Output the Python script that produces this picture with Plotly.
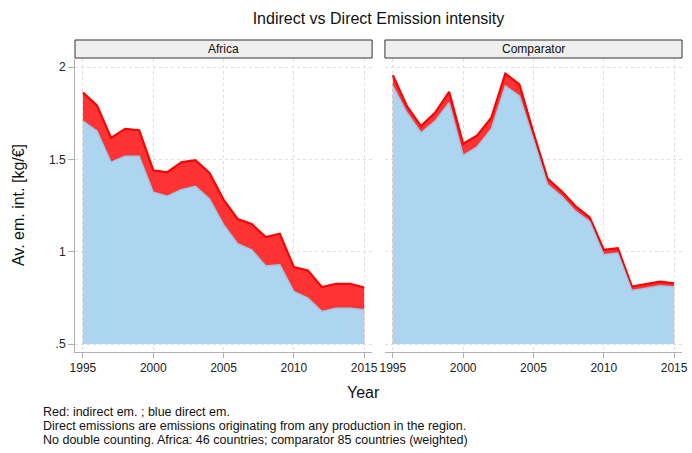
import plotly.graph_objects as go

# Data
YEARS = list(range(1995, 2016))

AFRICA_TOTAL = [1.861, 1.792, 1.616, 1.665, 1.658, 1.441, 1.430, 1.484, 1.495, 1.426, 1.282,
                1.177, 1.150, 1.079, 1.097, 0.916, 0.898, 0.808, 0.826, 0.826, 0.806]
AFRICA_DIRECT = [1.707, 1.653, 1.484, 1.517, 1.517, 1.322, 1.300, 1.336, 1.354, 1.285, 1.146,
                 1.043, 1.010, 0.923, 0.929, 0.784, 0.748, 0.676, 0.694, 0.694, 0.685]

COMP_TOTAL = [1.955, 1.788, 1.680, 1.752, 1.866, 1.584, 1.629, 1.725, 1.964, 1.906, 1.643,
              1.396, 1.327, 1.246, 1.186, 1.010, 1.019, 0.811, 0.824, 0.838, 0.829]
COMP_DIRECT = [1.897, 1.752, 1.644, 1.707, 1.806, 1.521, 1.568, 1.665, 1.897, 1.843, 1.607,
               1.363, 1.300, 1.218, 1.164, 0.983, 0.992, 0.790, 0.802, 0.815, 0.808]

PANELS = ["Africa", "Comparator"]
AREA_BASE = 0.5

X_TICKS = [1995, 2000, 2005, 2010, 2015]
Y_TICKS = [0.5, 1, 1.5, 2]
Y_TICK_TEXT = [".5", "1", "1.5", "2"]

NOTES = [
    "Red: indirect em. ; blue direct em.",
    "Direct emissions are emissions originating from any production in the region.",
    "No double counting. Africa: 46 countries; comparator 85 countries (weighted)",
]

W, H = 692, 453
ML, MR, MT, MB = 75, 4, 59, 101
PW, PH = W - ML - MR, H - MT - MB

RED_FILL = "rgba(255,0,0,0.8)"
BLUE_FILL = "#aed5ef"
FONT = "Liberation Sans, Arial, sans-serif"

fig = go.Figure()

series = [(AFRICA_TOTAL, AFRICA_DIRECT), (COMP_TOTAL, COMP_DIRECT)]
for i, (total, direct) in enumerate(series):
    xa = "x" if i == 0 else "x2"
    ya = "y" if i == 0 else "y2"
    base = [AREA_BASE] * len(YEARS)
    fig.add_trace(go.Scatter(x=YEARS, y=base, mode="lines", line=dict(width=0),
                             xaxis=xa, yaxis=ya, showlegend=False, hoverinfo="skip"))
    fig.add_trace(go.Scatter(x=YEARS, y=total, mode="lines", fill="tonexty",
                             fillcolor=RED_FILL, line=dict(color="red", width=2.2),
                             xaxis=xa, yaxis=ya, showlegend=False, name="Total"))
    fig.add_trace(go.Scatter(x=YEARS, y=base, mode="lines", line=dict(width=0),
                             xaxis=xa, yaxis=ya, showlegend=False, hoverinfo="skip"))
    fig.add_trace(go.Scatter(x=YEARS, y=direct, mode="lines", fill="tonexty",
                             fillcolor=BLUE_FILL, line=dict(color="#9dc8ea", width=1.5),
                             xaxis=xa, yaxis=ya, showlegend=False, name="Direct"))

dom_left = [0, 300 / PW]
dom_right = [313 / PW, 1]

yr_pad = 8 / PH * 1.5 / (1 - 16 / PH)
y_range = [0.5 - yr_pad, 2 + yr_pad]
x_pad = 8 / 284 * 20
x_range = [1995 - x_pad, 2015 + x_pad]

xcommon = dict(range=x_range, tickvals=X_TICKS, showgrid=True, gridcolor="#dedede",
               griddash="dot", gridwidth=1, showline=True, linecolor="#b0b0b0",
               ticks="outside", ticklen=5, tickcolor="#b0b0b0", zeroline=False,
               tickfont=dict(size=12, color="#222"))
ycommon = dict(range=y_range, tickvals=Y_TICKS, showgrid=True, gridcolor="#dedede",
               griddash="dot", gridwidth=1, zeroline=False)

fig.update_layout(
    width=W, height=H,
    margin=dict(l=ML, r=MR, t=MT, b=MB),
    plot_bgcolor="white", paper_bgcolor="white",
    font=dict(family=FONT, color="#111"),
    xaxis=dict(domain=dom_left, anchor="y", **xcommon),
    xaxis2=dict(domain=dom_right, anchor="y2", **xcommon),
    yaxis=dict(domain=[0, 1], anchor="x", ticktext=Y_TICK_TEXT, showline=True,
               linecolor="#b0b0b0", ticks="outside", ticklen=6, tickcolor="#b0b0b0",
               tickfont=dict(size=12, color="#222"), **ycommon),
    yaxis2=dict(domain=[0, 1], anchor="x2", showticklabels=False, showline=False, **ycommon),
    title=dict(text="Indirect vs Direct Emission intensity", x=0.5, xref="paper",
               xanchor="center", y=1 - 18 / H, yref="container", yanchor="middle",
               font=dict(size=16, color="#111")),
)

# facet header strips
for dom, label in zip([dom_left, dom_right], PANELS):
    fig.add_shape(type="rect", xref="paper", yref="paper",
                  x0=dom[0], x1=dom[1], y0=1 + 1 / PH, y1=1 + 19 / PH,
                  fillcolor="#efefef", line=dict(color="#333", width=1))
    fig.add_annotation(text=label, xref="paper", yref="paper",
                       x=(dom[0] + dom[1]) / 2, y=1 + 10 / PH, showarrow=False,
                       xanchor="center", yanchor="middle", font=dict(size=12, color="#111"))

fig.add_annotation(text="Av. em. int. [kg/€]", xref="paper", yref="paper",
                   x=(18 - ML) / PW, y=0.5, textangle=-90, showarrow=False,
                   xanchor="center", yanchor="middle", font=dict(size=16, color="#111"))
fig.add_annotation(text="Year", xref="paper", yref="paper",
                   x=(366 - ML) / PW, y=-(392 - (MT + PH)) / PH, showarrow=False,
                   xanchor="center", yanchor="middle", font=dict(size=16, color="#111"))

# notes, one line per annotation
for k, line in enumerate(NOTES):
    fig.add_annotation(text=line, xref="paper", yref="paper",
                       x=(42 - ML) / PW, y=-(412 + 14 * k - (MT + PH)) / PH, showarrow=False,
                       xanchor="left", yanchor="middle", align="left", borderpad=0,
                       font=dict(size=12.5, color="#111"))

fig.write_html("out.html", config={"displayModeBar": False},
               post_script="document.body.style.margin='0';")
